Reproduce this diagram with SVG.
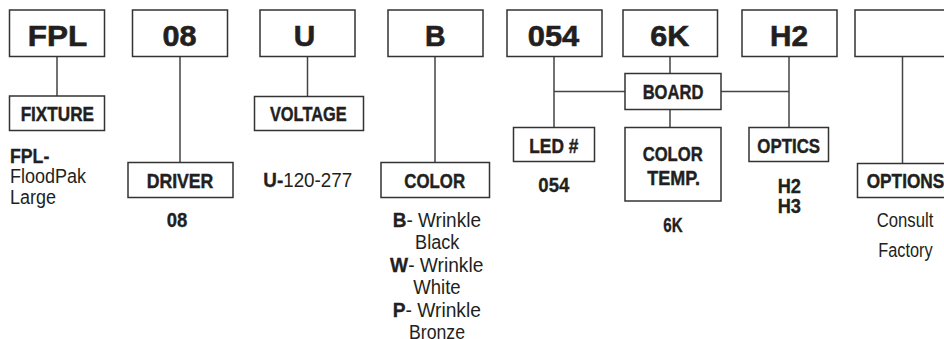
<svg xmlns="http://www.w3.org/2000/svg" width="944" height="339" viewBox="0 0 944 339">
<style>
.box{fill:#fff;stroke:#333;stroke-width:1.5}
.ln{fill:none;stroke:#444;stroke-width:1.5}
text{font-family:"Liberation Sans Narrow","Liberation Sans",Arial,sans-serif;fill:#231f20;text-anchor:middle}
.big{font-size:29.5px;font-weight:bold;stroke:#231f20;stroke-width:0.6}
.lab{font-size:20.5px;font-weight:bold;stroke:#231f20;stroke-width:0.45}
.dsc{font-size:19.5px}
.b{font-weight:bold;stroke:#231f20;stroke-width:0.3}
</style>
<rect width="944" height="339" fill="#fff"/>
<g id="connectors">
<path class="ln" d="M57 56.5V96M180 56.5V162.5M307.5 56.5V96.5M435 56.5V162.5M554 56.5V127.5M554 91.5H625M670 56.5V73.5M670 109.5V127.5M721 91.5H789M789 56.5V127.5M902.5 56.5V163.5"/>
</g>
<g id="code-fpl"><rect class="box" x="9.5" y="10" width="95" height="46.5"/><text class="big" x="57.5" y="45.5" textLength="59.5" lengthAdjust="spacingAndGlyphs">FPL</text></g>
<g id="code-08"><rect class="box" x="132.5" y="10" width="95" height="46.5"/><text class="big" x="179.5" y="45.5" textLength="34" lengthAdjust="spacingAndGlyphs">08</text></g>
<g id="code-u"><rect class="box" x="260" y="10" width="95" height="46.5"/><text class="big" x="304.5" y="45.5" textLength="21.5" lengthAdjust="spacingAndGlyphs">U</text></g>
<g id="code-b"><rect class="box" x="388" y="10" width="95" height="46.5"/><text class="big" x="435.3" y="45.5" textLength="20.5" lengthAdjust="spacingAndGlyphs">B</text></g>
<g id="code-054"><rect class="box" x="507" y="10" width="95" height="46.5"/><text class="big" x="553.5" y="45.5" textLength="51.5" lengthAdjust="spacingAndGlyphs">054</text></g>
<g id="code-6k"><rect class="box" x="623" y="10" width="94.5" height="46.5"/><text class="big" x="669.7" y="45.5" textLength="39" lengthAdjust="spacingAndGlyphs">6K</text></g>
<g id="code-h2"><rect class="box" x="742" y="10" width="95" height="46.5"/><text class="big" x="789" y="45.5" textLength="38" lengthAdjust="spacingAndGlyphs">H2</text></g>
<g id="code-blank"><rect class="box" x="855" y="10" width="95" height="46.5"/></g>

<g id="fixture"><rect class="box" x="9.5" y="96" width="95" height="34.5"/><text class="lab" x="57.3" y="120.5" textLength="73.3" lengthAdjust="spacingAndGlyphs">FIXTURE</text>
<text class="dsc b" x="10" y="162.7" style="text-anchor:start" textLength="39.3" lengthAdjust="spacingAndGlyphs">FPL-</text>
<text class="dsc" x="10" y="183.3" style="text-anchor:start" textLength="76" lengthAdjust="spacingAndGlyphs">FloodPak</text>
<text class="dsc" x="10" y="204" style="text-anchor:start" textLength="46" lengthAdjust="spacingAndGlyphs">Large</text></g>

<g id="driver"><rect class="box" x="128" y="162.5" width="105" height="35"/><text class="lab" x="180" y="187.7" textLength="66.7" lengthAdjust="spacingAndGlyphs">DRIVER</text>
<text class="dsc b" x="177" y="226.7" textLength="20.6" lengthAdjust="spacingAndGlyphs">08</text></g>

<g id="voltage"><rect class="box" x="254.5" y="96.5" width="109" height="34"/><text class="lab" x="308.3" y="120.7" textLength="76.7" lengthAdjust="spacingAndGlyphs">VOLTAGE</text>
<text class="dsc" x="307.8" y="186.7" textLength="89" lengthAdjust="spacingAndGlyphs"><tspan class="b">U-</tspan>120-277</text></g>

<g id="color"><rect class="box" x="381" y="162.5" width="108.5" height="35"/><text class="lab" x="434.7" y="187.7" textLength="60.7" lengthAdjust="spacingAndGlyphs">COLOR</text>
<text class="dsc" x="436.8" y="226.7" textLength="88.3" lengthAdjust="spacingAndGlyphs"><tspan class="b">B</tspan>- Wrinkle</text>
<text class="dsc" x="437.2" y="249" textLength="44.3" lengthAdjust="spacingAndGlyphs">Black</text>
<text class="dsc" x="436.7" y="271.8" textLength="93.3" lengthAdjust="spacingAndGlyphs"><tspan class="b">W</tspan>- Wrinkle</text>
<text class="dsc" x="437" y="294" textLength="47.4" lengthAdjust="spacingAndGlyphs">White</text>
<text class="dsc" x="436.8" y="316.7" textLength="88.3" lengthAdjust="spacingAndGlyphs"><tspan class="b">P</tspan>- Wrinkle</text>
<text class="dsc" x="437" y="338.5" textLength="56" lengthAdjust="spacingAndGlyphs">Bronze</text></g>

<g id="led"><rect class="box" x="513.5" y="127.5" width="81" height="34"/><text class="lab" x="553.8" y="153.3" textLength="49" lengthAdjust="spacingAndGlyphs">LED #</text>
<text class="dsc b" x="553.8" y="191.7" textLength="31" lengthAdjust="spacingAndGlyphs">054</text></g>

<g id="board"><rect class="box" x="625" y="73.5" width="96" height="36"/><text class="lab" x="673" y="99.3" textLength="60.7" lengthAdjust="spacingAndGlyphs">BOARD</text></g>

<g id="color-temp"><rect class="box" x="625" y="127.5" width="96" height="73.5"/><text class="lab" x="672.7" y="160.5" textLength="60" lengthAdjust="spacingAndGlyphs">COLOR</text><text class="lab" x="673.7" y="185" textLength="52.7" lengthAdjust="spacingAndGlyphs">TEMP.</text>
<text class="dsc b" x="673" y="231.7" textLength="19.4" lengthAdjust="spacingAndGlyphs">6K</text></g>

<g id="optics"><rect class="box" x="749" y="127.5" width="79.5" height="34"/><text class="lab" x="788.7" y="152.7" textLength="62.7" lengthAdjust="spacingAndGlyphs">OPTICS</text>
<text class="dsc b" x="789.3" y="193.3" textLength="23.3" lengthAdjust="spacingAndGlyphs">H2</text>
<text class="dsc b" x="789.3" y="213.3" textLength="23.3" lengthAdjust="spacingAndGlyphs">H3</text></g>

<g id="options"><rect class="box" x="857.5" y="163.5" width="95" height="34"/><text class="lab" x="905.5" y="188.3" textLength="77.6" lengthAdjust="spacingAndGlyphs">OPTIONS</text>
<text class="dsc" x="905" y="227.3" textLength="56.6" lengthAdjust="spacingAndGlyphs">Consult</text>
<text class="dsc" x="905.5" y="256.7" textLength="54.4" lengthAdjust="spacingAndGlyphs">Factory</text></g>
</svg>
